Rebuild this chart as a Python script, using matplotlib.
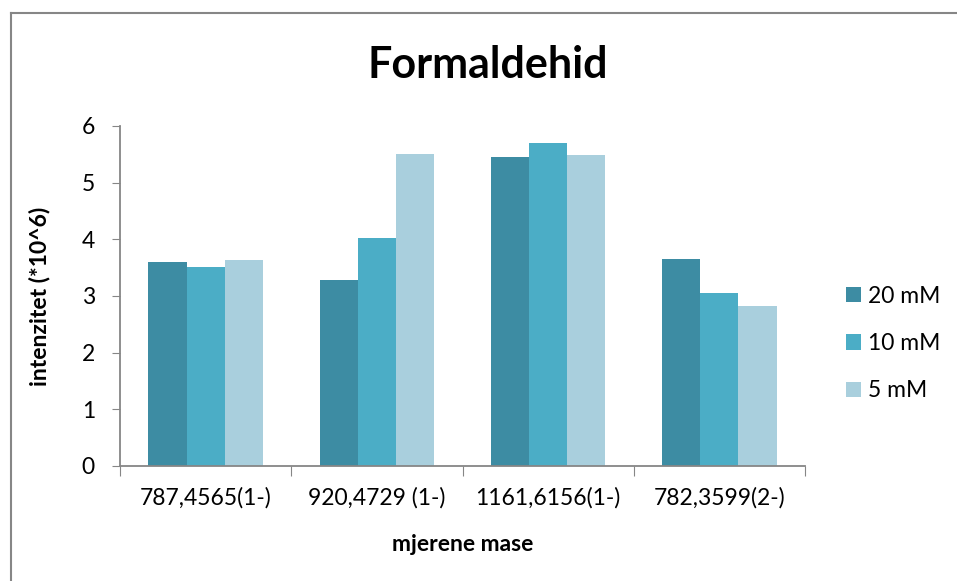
import numpy as np
import matplotlib
matplotlib.use("Agg")
import matplotlib.pyplot as plt
from matplotlib.lines import Line2D

# ============================== Data
categories = ["787,4565(1-)", "920,4729 (1-)", "1161,6156(1-)", "782,3599(2-)"]
series_names = ["20 mM", "10 mM", "5 mM"]
vals_20 = [3.60, 3.28, 5.45, 3.66]
vals_10 = [3.51, 4.02, 5.70, 3.05]
vals_5 = [3.63, 5.50, 5.49, 2.82]
y_ticks = [0, 1, 2, 3, 4, 5, 6]

colors = ["#3D8CA3", "#4BADC6", "#A9CFDD"]
axis_col = "#868686"
FS = 16.5

plt.rcParams["font.family"] = ["Lato", "DejaVu Sans"]

W, H = 957, 581
fig = plt.figure(figsize=(W / 100, H / 100), dpi=100)

# frame of the chart area (top and left visible)
fig.add_artist(Line2D([11 / W, 11 / W], [0, 1 - 13 / H], color=axis_col, lw=1.5))
fig.add_artist(Line2D([11 / W, 1], [1 - 13 / H, 1 - 13 / H], color=axis_col, lw=1.5))

ax = fig.add_axes([120 / W, (H - 466) / H, (805 - 120) / W, (466 - 126) / H])

x = np.arange(len(categories))
bw = 0.223
for i, (vals, name) in enumerate(zip([vals_20, vals_10, vals_5], series_names)):
    ax.bar(x + (i - 1) * bw, vals, width=bw, color=colors[i], label=name,
           edgecolor="none")

ax.set_xlim(-0.5, len(categories) - 0.5)
ax.set_ylim(0, 6)
ax.set_yticks(y_ticks)
ax.set_yticklabels([str(t) for t in y_ticks], fontsize=FS)

ax.set_xticks(np.arange(-0.5, len(categories), 1.0))
ax.set_xticklabels([])
ax.set_xticks(x, minor=True)
ax.set_xticklabels(categories, minor=True, fontsize=FS)
ax.tick_params(axis="x", which="minor", length=0, pad=15)
ax.tick_params(axis="x", which="major", length=7, color=axis_col, direction="out")
ax.tick_params(axis="y", length=6, color=axis_col, direction="out", pad=12)

for s in ["top", "right"]:
    ax.spines[s].set_visible(False)
for s in ["left", "bottom"]:
    ax.spines[s].set_color(axis_col)
    ax.spines[s].set_linewidth(1.3)

ax.set_ylabel("intenzitet (*10^6)", fontsize=FS, fontweight="bold")
ax.yaxis.set_label_coords(-0.117, 0.5)
ax.set_xlabel("mjerene mase", fontsize=FS, fontweight="bold")
ax.xaxis.set_label_coords(0.5, -0.232)
ax.xaxis.label.set_va("center")
ax.yaxis.label.set_va("center")

fig.text(488 / W, 1 - 65 / H, "Formaldehid", fontsize=31, fontweight="bold",
         ha="center", va="center")

ax.legend(loc="center left", bbox_to_anchor=(1.03, 0.36), frameon=False,
          fontsize=FS, handlelength=0.65, handleheight=0.65, handletextpad=0.3,
          labelspacing=1.15)

fig.savefig("out.png", dpi=100)
